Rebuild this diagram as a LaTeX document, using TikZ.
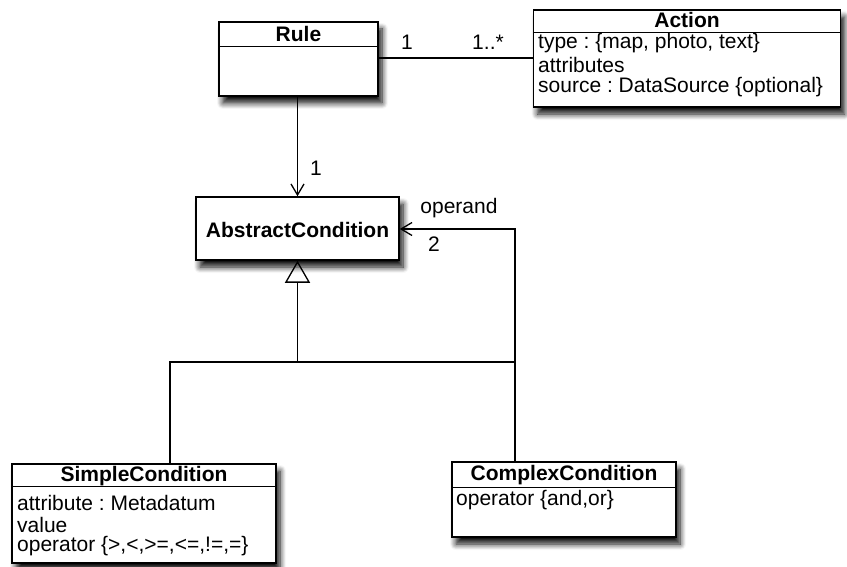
\documentclass[tikz,border=0pt]{standalone}
\usepackage{fontspec}
\setmainfont{Liberation Sans}
\usetikzlibrary{arrows.meta,shadows.blur,calc}
\frenchspacing

\tikzset{
  classbox/.style={draw=black, line width=1.5pt, fill=white, rectangle, inner sep=0pt,
    blur shadow={shadow xshift=4pt, shadow yshift=-7pt, shadow blur radius=6pt,
      shadow blur steps=8, shadow opacity=95}},
  divider/.style={line width=1.2pt},
  ctitle/.style={font=\fontsize{21}{22}\selectfont\bfseries, inner sep=0pt},
  cattr/.style={font=\fontsize{21}{22}\selectfont, inner sep=0pt, anchor=west},
  mult/.style={font=\fontsize{21}{22}\selectfont, inner sep=0pt},
  conn/.style={line width=1.3pt},
  navarrow/.style={conn, -{Straight Barb[length=11pt, width=13pt, line width=1.3pt]}},
  genarrow/.style={conn, -{Triangle[open, length=22pt, width=25pt, line width=1.3pt]}}
}

\begin{document}
\begin{tikzpicture}[x=1pt, y=-1pt]
\useasboundingbox (0,0) rectangle (847,567);

% class boxes
\node[classbox, minimum width=159pt, minimum height=74pt] (rule) at (298.5,59) {};
\node[classbox, minimum width=307pt, minimum height=97pt] (action) at (687,58.5) {};
\node[classbox, minimum width=203pt, minimum height=63pt] (abstract) at (297.5,228.5) {};
\node[classbox, minimum width=264pt, minimum height=99pt] (simple) at (144,513.5) {};
\node[classbox, minimum width=224pt, minimum height=75pt] (complex) at (564,499.5) {};

% compartment dividers
\draw[divider] ([yshift=-25pt]rule.north west) -- ([yshift=-25pt]rule.north east);
\draw[divider] ([yshift=-23pt]action.north west) -- ([yshift=-23pt]action.north east);
\draw[divider] ([yshift=-23pt]simple.north west) -- ([yshift=-23pt]simple.north east);
\draw[divider] ([yshift=-26pt]complex.north west) -- ([yshift=-26pt]complex.north east);

% class names
\node[ctitle] (ruleT) at (298.5,34) {Rule};
\node[ctitle] (actionT) at (687,20) {Action};
\node[ctitle] (abstractT) at (297.5,230) {AbstractCondition};
\node[ctitle] (simpleT) at (144,476) {SimpleCondition};
\node[ctitle] (complexT) at (564,475) {ComplexCondition};

% attributes
\node[cattr] (a1) at (538,43.5) {type : \{map, photo, text\}};
\node[cattr] (a2) at (538,65) {attributes};
\node[cattr] (a3) at (538,87) {source : DataSource \{optional\}};
\node[cattr] (s1) at (17,502.5) {attribute : Metadatum};
\node[cattr] (s2) at (17,524.5) {value};
\node[cattr] (s3) at (17,546) {operator \{>,<,>=,<=,!=,=\}};
\node[cattr] (c1) at (456,500) {operator \{and,or\}};

% association Rule -- Action
\coordinate (ruleR) at ($(rule.east)+(0,-1)$);
\draw[conn] (ruleR) -- (ruleR -| action.west);
\node[mult] (m1) at (407,42) {1};
\node[mult] (m2) at (488,42) {1..*};

% Rule -> AbstractCondition
\draw[navarrow] (rule.south -| abstract.north) -- (abstract.north);
\node[mult] (m3) at (316,168) {1};

% operand association ComplexCondition -> AbstractCondition
\coordinate (opturn) at (515,229);
\draw[navarrow] (complex.north -| opturn) -- (opturn) -- (abstract.east |- opturn);
\node[mult] (opl) at (459,208) {operand};
\node[mult] (m4) at (434,244) {2};

% generalisation
\coordinate (join) at (297.5,362);
\draw[genarrow] (join) -- (abstract.south);
\draw[conn] (simple.north -| 170,0) |- (join);
\draw[conn] (complex.north -| 515,0) |- (join);
\end{tikzpicture}
\end{document}
